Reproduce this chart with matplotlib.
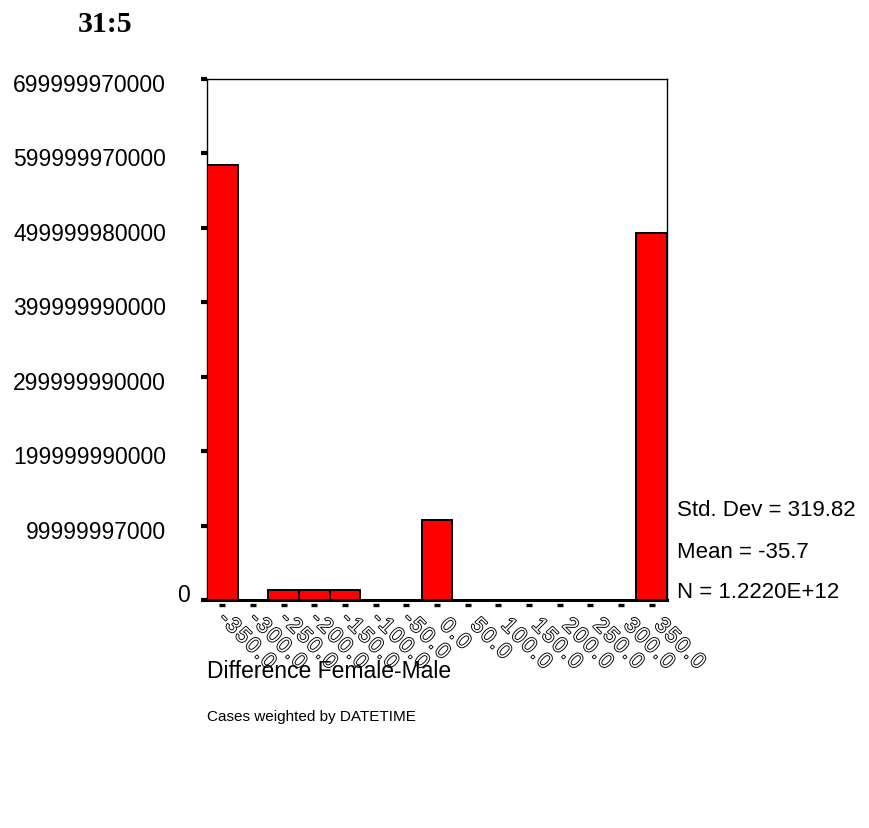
import matplotlib
matplotlib.use("Agg")
import matplotlib.pyplot as plt
import matplotlib.patheffects as pe
from matplotlib.transforms import offset_copy, ScaledTranslation
from matplotlib.font_manager import FontProperties
from matplotlib.textpath import text_to_path
import numpy as np

# ---- data ----
bin_centers = [-350.0, -300.0, -250.0, -200.0, -150.0, -100.0, -50.0, 0.0,
               50.0, 100.0, 150.0, 200.0, 250.0, 300.0, 350.0]
counts = [5.85e11, 0.0, 1.3e10, 1.3e10, 1.3e10, 0.0, 0.0, 1.07e11,
          0.0, 0.0, 0.0, 0.0, 0.0, 0.0, 4.93e11]
x_tick_labels = ["-350.0", "-300.0", "-250.0", "-200.0", "-150.0", "-100.0", "-50.0", "0.0",
                 "50.0", "100.0", "150.0", "200.0", "250.0", "300.0", "350.0"]
y_tick_values = [0, 99999997000, 199999990000, 299999990000, 399999990000,
                 499999980000, 599999970000, 699999970000]
y_tick_labels = ["0", "99999997000", "199999990000", "299999990000", "399999990000",
                 "499999980000", "599999970000", "699999970000"]
stats_lines = ["Std. Dev = 319.82", "Mean = -35.7", "N = 1.2220E+12"]
title = "31:5"
x_label = "Difference Female-Male"
footnote = "Cases weighted by DATETIME"
bin_width = 50.0

plt.rcParams['font.family'] = ['Liberation Sans', 'DejaVu Sans']

W, H = 870, 829
DPI = 100
fig = plt.figure(figsize=(W / DPI, H / DPI), dpi=DPI)
ax_l, ax_r, ax_t, ax_b = 207, 667, 80, 601
ax = fig.add_axes([ax_l / W, 1 - ax_b / H, (ax_r - ax_l) / W, (ax_b - ax_t) / H])

ax.bar(bin_centers, counts, width=bin_width, color='#ff0000',
       edgecolor='black', linewidth=1.4, zorder=3)
ax.set_xlim(bin_centers[0] - bin_width / 2, bin_centers[-1] + bin_width / 2)
ax.set_ylim(0, 7e11)

for s in ['left', 'top', 'right']:
    ax.spines[s].set_linewidth(1.0)
ax.spines['bottom'].set_linewidth(2.2)
ax.spines['bottom'].set_zorder(4)

# y ticks
ax.set_yticks(y_tick_values)
ax.set_yticklabels(y_tick_labels, fontsize=16.5)
ax.tick_params(axis='y', direction='out', length=4.5, width=3, pad=25, colors='black')
for lab in ax.get_yticklabels():
    lab.set_transform(lab.get_transform() + ScaledTranslation(0, -3 / DPI, fig.dpi_scale_trans))
zero_lab = ax.get_yticklabels()[0]
zero_lab.set_transform(zero_lab.get_transform() + ScaledTranslation(24 / DPI, 11 / DPI, fig.dpi_scale_trans))

# x ticks: hidden, replaced by dashes and outlined rotated labels
ax.set_xticks([])
dash_y = -(606 - ax_b) / (ax_b - ax_t)
ax.plot(bin_centers, [dash_y] * len(bin_centers), transform=ax.get_xaxis_transform(),
        linestyle='none', marker='_', markersize=4.5, markeredgewidth=2.4,
        color='black', clip_on=False)

lab_fs = 15.5
track = 2.0
prop = FontProperties(family='Liberation Sans', size=lab_fs)
def adv(ch):
    w, h, d = text_to_path.get_text_width_height_descent(ch, prop, ismath=False)
    return w * DPI / 72.0

c45 = np.cos(np.deg2rad(45))
base_dy = -26  # baseline start below axis, in dots
base_dx = 2
effects = [pe.withStroke(linewidth=1.3, foreground='black')]
for xc, lbl in zip(bin_centers, x_tick_labels):
    s = 0.0
    if lbl.startswith('-'):
        s = -(adv('-') + track)
    for ch in lbl:
        tr = offset_copy(ax.get_xaxis_transform(), fig=fig,
                         x=base_dx + s * c45, y=base_dy - s * c45, units='dots')
        ax.text(xc, 0, ch, transform=tr, rotation=-45, rotation_mode='anchor',
                ha='left', va='baseline', fontsize=lab_fs, color='white',
                path_effects=effects, clip_on=False)
        s += adv(ch) + track

# stats text
for yy, s in zip([511, 553, 593], stats_lines):
    fig.text(677 / W, 1 - yy / H, s, ha='left', va='center', fontsize=16)

fig.text(207 / W, 1 - 672 / H, x_label, ha='left', va='center', fontsize=16.5)
fig.text(207 / W, 1 - 717 / H, footnote, ha='left', va='center', fontsize=11)
fig.text(105 / W, 1 - 24 / H, title, ha='center', va='center', fontsize=21.5,
         fontweight='bold', family=['Liberation Serif', 'DejaVu Serif'])

fig.savefig('out.png', dpi=DPI, facecolor='white')
